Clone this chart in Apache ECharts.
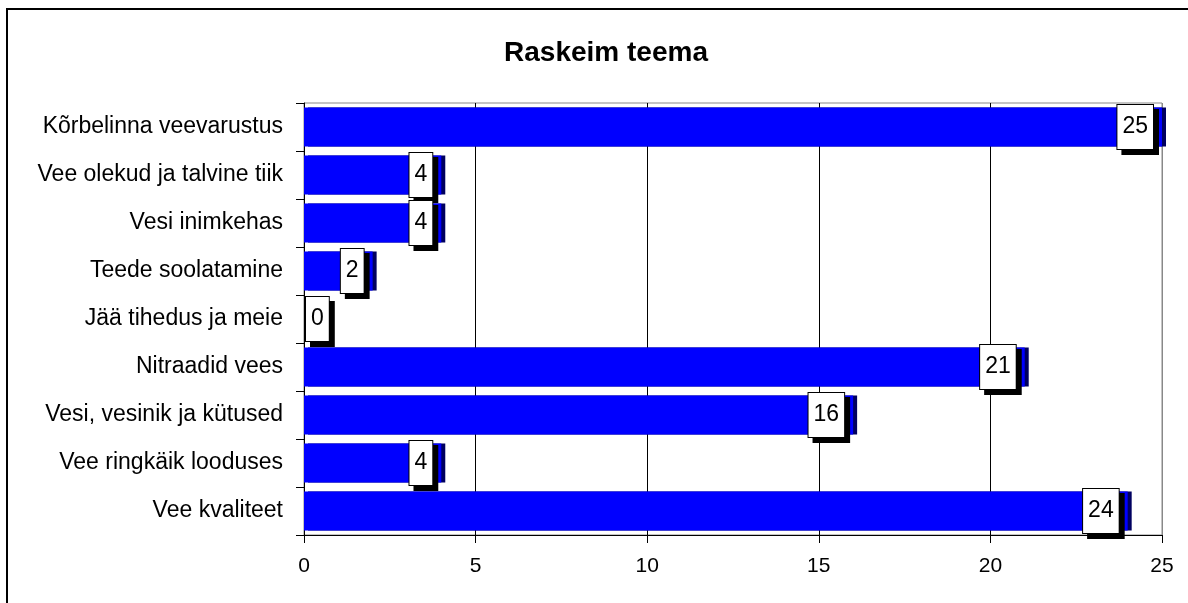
<!DOCTYPE html>
<html>
<head>
    <meta charset="utf-8">
    <script src="https://cdn.jsdelivr.net/npm/echarts@6/dist/echarts.min.js"></script>
    <style type="text/css">
        html, body { margin: 0; padding: 0; background: #fff; }
        #main { width: 1188px; height: 603px; }
        #frame {
            position: absolute; left: 6px; top: 8px; width: 1200px; height: 620px;
            border-left: 2px solid #000; border-top: 2px solid #000;
            pointer-events: none;
        }
    </style>
</head>
<body>
    <div id="main"></div>
    <div id="frame"></div>
    <script>
        // andmed: ülevalt alla
        var teemad = ['Kõrbelinna veevarustus', 'Vee olekud ja talvine tiik', 'Vesi inimkehas',
            'Teede soolatamine', 'Jää tihedus ja meie', 'Nitraadid vees',
            'Vesi, vesinik ja kütused', 'Vee ringkäik looduses', 'Vee kvaliteet'];
        var vastused = [25, 4, 4, 2, 0, 21, 16, 4, 24];
        var xTicks = [0, 5, 10, 15, 20, 25];

        var font = 'Liberation Sans, Arial, sans-serif';

        var chart = echarts.init(document.getElementById('main'));
        var option = {
            animation: false,
            title: {
                text: 'Raskeim teema',
                left: 601,
                textAlign: 'center',
                top: 34,
                textStyle: { fontFamily: font, fontSize: 28, fontWeight: 'bold', color: '#000' }
            },
            grid: {
                left: 304, right: 26, top: 103, bottom: 68,
                show: true, borderColor: '#888', borderWidth: 1
            },
            xAxis: {
                type: 'value',
                min: xTicks[0],
                max: xTicks[xTicks.length - 1],
                interval: 5,
                axisLine: { show: true, lineStyle: { color: '#000' } },
                axisTick: { show: true, length: 8, lineStyle: { color: '#000' } },
                axisLabel: { margin: 21, fontFamily: font, fontSize: 21, color: '#000' },
                splitLine: { lineStyle: { color: ['#000', '#000', '#000', '#000', '#000', '#888'], width: 1 } }
            },
            yAxis: {
                type: 'category',
                inverse: true,
                data: teemad,
                axisLine: { show: true, lineStyle: { color: '#000' } },
                axisTick: { show: true, length: 8, lineStyle: { color: '#000' } },
                axisLabel: { margin: 21, fontFamily: font, fontSize: 23, color: '#000' }
            },
            series: [{
                type: 'bar',
                barWidth: 39,
                data: vastused.map(function (v) {
                    // nulli silt jääb telje kõrvale
                    return v === 0 ? { value: v, label: { position: 'right', distance: 2 } } : v;
                }),
                itemStyle: {
                    color: '#0000ff',
                    shadowColor: '#000060',
                    shadowOffsetX: 4,
                    shadowOffsetY: 0,
                    shadowBlur: 0
                },
                label: {
                    show: true,
                    position: 'insideRight',
                    distance: 9,
                    fontFamily: font,
                    fontSize: 23,
                    color: '#000',
                    backgroundColor: '#fff',
                    borderColor: '#000',
                    borderWidth: 1,
                    padding: [11, 5, 10, 5],
                    shadowColor: '#000',
                    shadowOffsetX: 5,
                    shadowOffsetY: 5,
                    shadowBlur: 0
                }
            }]
        };
        chart.setOption(option);
    </script>
</body>
</html>
